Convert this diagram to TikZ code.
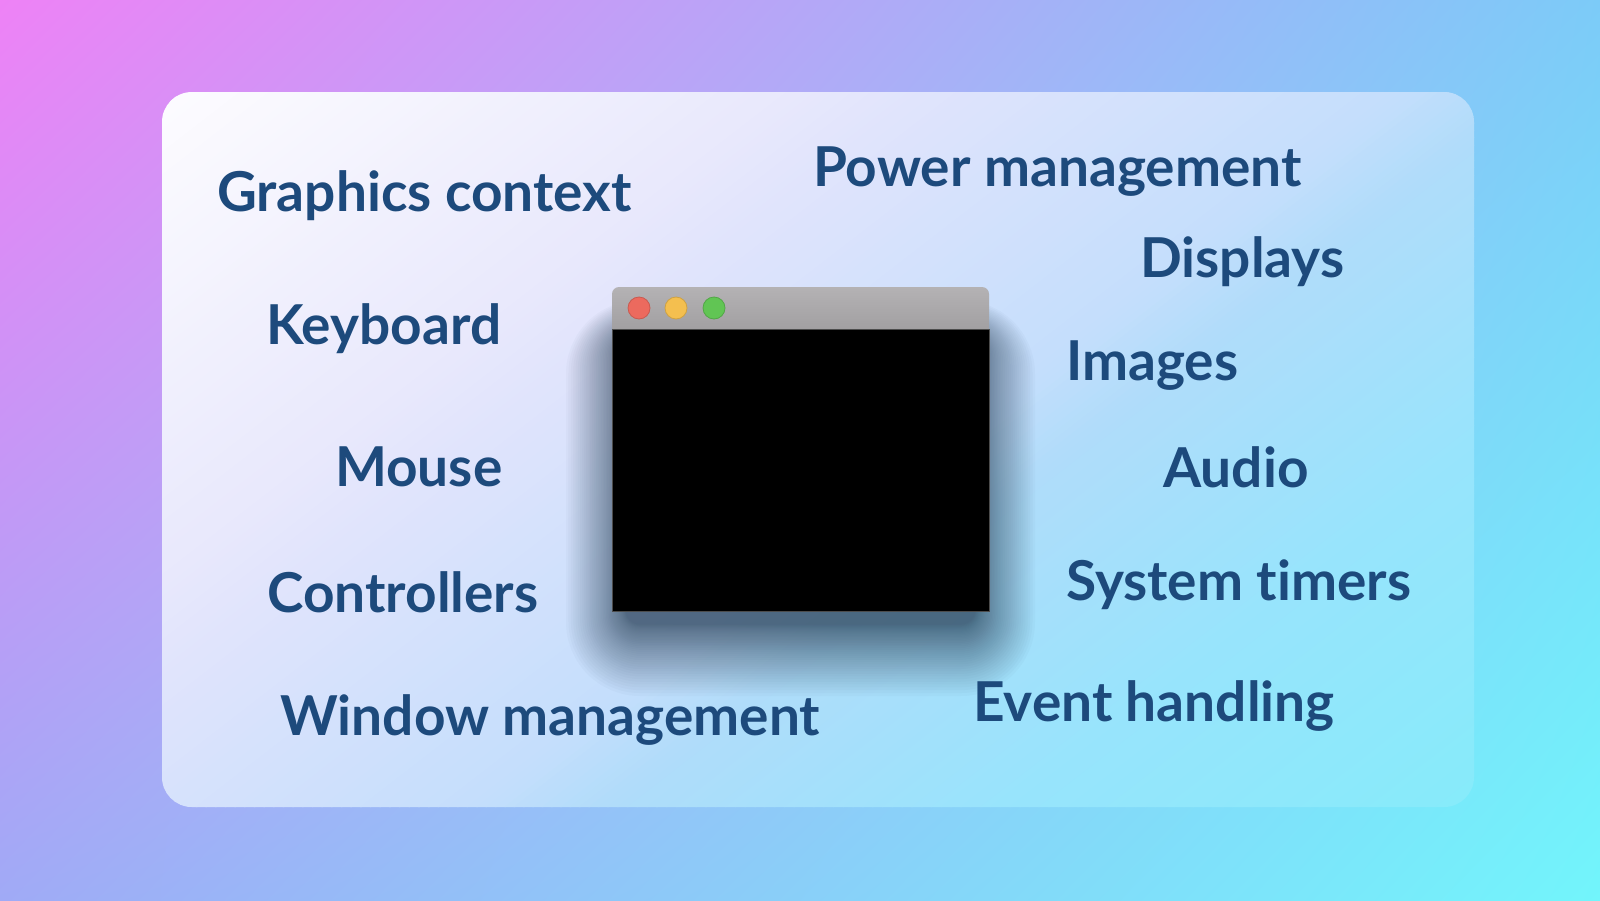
\documentclass[tikz,border=0pt]{standalone}
\usepackage{fontspec}
\usetikzlibrary{shadings}
\setmainfont{Lato}[UprightFont=* Bold,Ligatures=NoCommon]
\begin{document}
\definecolor{bgUL}{HTML}{EE82F6}
\definecolor{bgUR}{HTML}{7CCBF8}
\definecolor{bgLL}{HTML}{A0AAF6}
\definecolor{bgLR}{HTML}{72F5FB}
% colour stops of the card, along its diagonal
\definecolor{cardA}{HTML}{FDFCFF}
\definecolor{cardB}{HTML}{E8E8FC}
\definecolor{cardC}{HTML}{E0E4FC}
\definecolor{cardD}{HTML}{C4DEFC}
\definecolor{cardE}{HTML}{B0DCFA}
\definecolor{cardF}{HTML}{98E4FC}
\definecolor{cardG}{HTML}{86EBFA}
\definecolor{labelcol}{HTML}{1D4A7C}
\definecolor{shadowcol}{HTML}{2A4258}
\definecolor{titletop}{HTML}{B4B2B4}
\definecolor{titlebot}{HTML}{9D9B9D}
\definecolor{btnred}{HTML}{EC6A5E}
\definecolor{btnyellow}{HTML}{F4BF4F}
\definecolor{btngreen}{HTML}{61C554}
\begin{tikzpicture}[x=1pt,y=-1pt,
  feature/.style={anchor=base west,inner sep=0pt,text=labelcol,
    font=\fontsize{55}{62}\selectfont},
  button/.style={circle,minimum size=22pt,inner sep=0pt,line width=0.8pt}]
  \useasboundingbox (0,0) rectangle (1600,900);
  % backdrop gradient
  \shade[upper left=bgUL,upper right=bgUR,lower left=bgLL,lower right=bgLR]
    (0,0) rectangle (1600,900);
  % translucent card: diagonal gradient built from thin solid strips
  \begin{scope}
    \clip[rounded corners=30pt] (162,92) rectangle (1474,807);
    \begin{scope}[rotate=-52.3]
      \fill[cardA] (-400,-1800) rectangle (173,1800);
      \foreach \sa/\sb/\ca/\cb in {172/560/cardA/cardB, 560/640/cardB/cardC,
          640/930/cardC/cardD, 930/1010/cardD/cardE, 1010/1250/cardE/cardF,
          1250/1540/cardF/cardG}{
        \pgfmathsetmacro{\n}{int(ceil((\sb-\sa)/6))}
        \pgfmathsetmacro{\w}{(\sb-\sa)/\n}
        \foreach \j in {1,...,\n}{
          \pgfmathsetmacro{\p}{100*(\j-0.5)/\n}
          \colorlet{stripcol}{\cb!\p!\ca}
          \fill[stripcol] (\sa+\w*\j-\w,-1800) rectangle (\sa+\w*\j+0.8,1800);
        }
      }
      \fill[cardG] (1540,-1800) rectangle (2400,1800);
    \end{scope}
  \end{scope}
  % soft drop shadow of the window: stacked translucent layers
  \foreach \i in {1,...,40}{
    \pgfmathsetmacro{\e}{0.5*\i+0.025*\i*\i}
    \fill[shadowcol,opacity=0.027,rounded corners=14pt+\e pt]
      (626-\e,336-0.6*\e) rectangle (975+\e,624+1.2*\e);
  }
  % window: title bar and black content area
  \shade[top color=titletop,bottom color=titlebot,
    rounded corners=7pt] (612,287) rectangle (989,340);
  \fill[black] (612,329) rectangle (989,611);
  \draw[gray!70!black,line width=0.6pt] (612,329) -- (989,329);
  \draw[gray!60!black,line width=0.6pt] (612,329) rectangle (989,611);
  \node[button,fill=btnred,draw=btnred!85!black] (close) at (639,308) {};
  \node[button,fill=btnyellow,draw=btnyellow!85!black] (minimize) at (676,308) {};
  \node[button,fill=btngreen,draw=btngreen!85!black] (zoom) at (714,308) {};
  % subsystem labels
  \node[feature] (gfx) at (217,211) {Graphics context};
  \node[feature] (power) at (813,186) {Power management};
  \node[feature] (displays) at (1140,277) {Displays};
  \node[feature] (keyboard) at (266,344) {Keyboard};
  \node[feature] (images) at (1066,380) {Images};
  \node[feature] (mouse) at (335,486) {Mouse};
  \node[feature] (audio) at (1163,487) {Audio};
  \node[feature] (controllers) at (267,612) {Controllers};
  \node[feature] (timers) at (1066,600) {System timers};
  \node[feature] (winmgmt) at (280,735) {Window management};
  \node[feature] (events) at (973,721) {Event handling};
\end{tikzpicture}
\end{document}
